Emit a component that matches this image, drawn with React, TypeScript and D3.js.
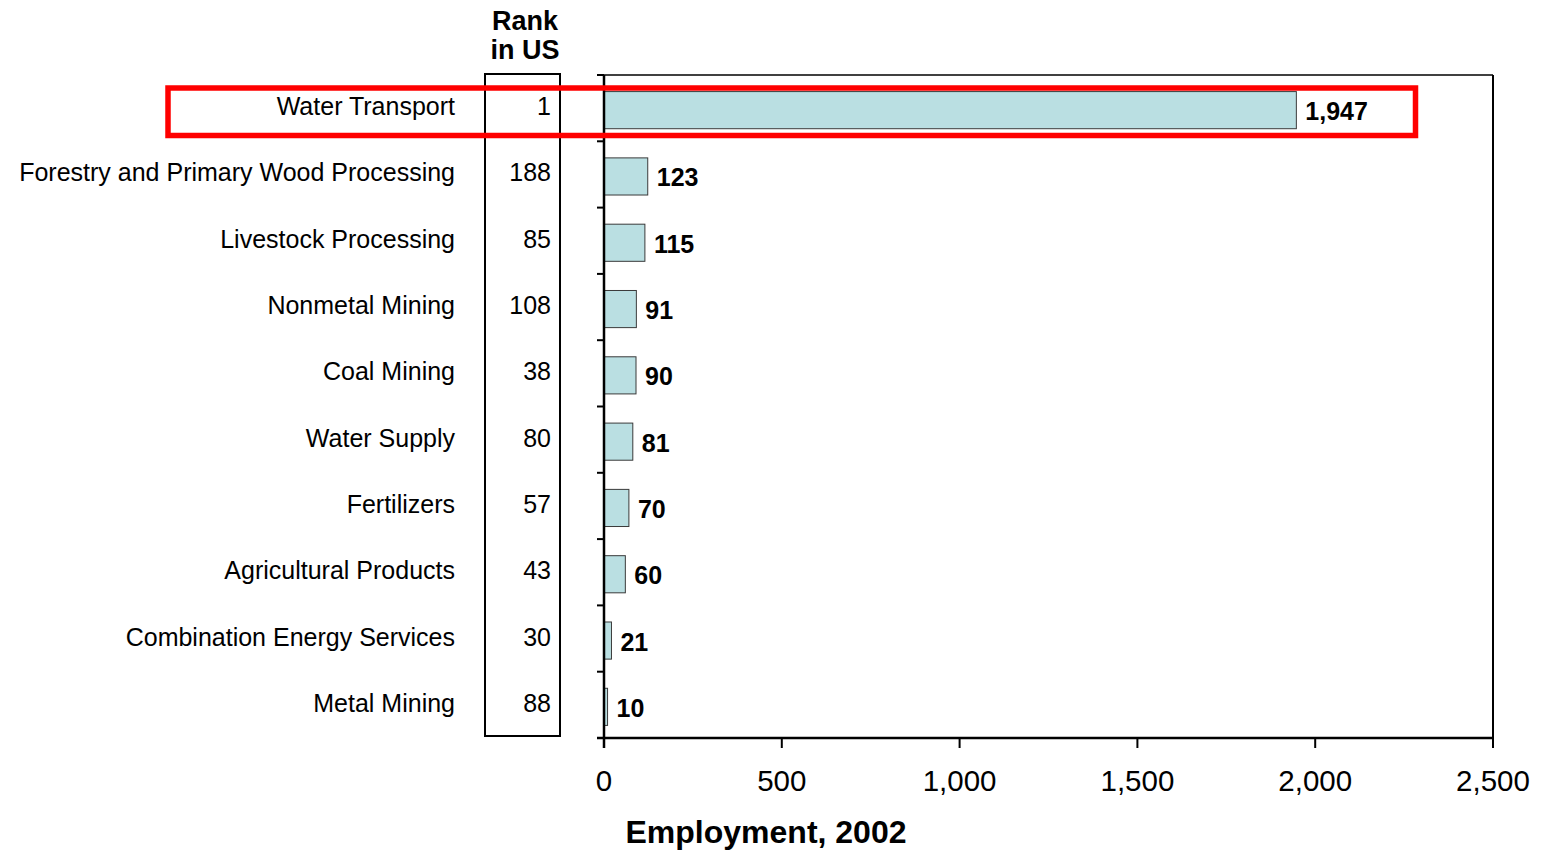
import React from "react";
import * as d3 from "d3";

const categories = [
  "Water Transport",
  "Forestry and Primary Wood Processing",
  "Livestock Processing",
  "Nonmetal Mining",
  "Coal Mining",
  "Water Supply",
  "Fertilizers",
  "Agricultural Products",
  "Combination Energy Services",
  "Metal Mining",
];
const employment = [1947, 123, 115, 91, 90, 81, 70, 60, 21, 10];
const rankInUS = [1, 188, 85, 108, 38, 80, 57, 43, 30, 88];
const xTicks = [0, 500, 1000, 1500, 2000, 2500];

const FONT = "'Liberation Sans', Arial, Helvetica, sans-serif";

export default function App() {
  const W = 1549, H = 850;
  const left = 604, right = 1493, top = 75, bottom = 738;
  const x = d3.scaleLinear().domain([0, 2500]).range([left, right]);
  const y = d3.scaleBand<string>().domain(categories).range([top, bottom]);
  const bw = y.bandwidth();
  const barH = bw * 0.56;
  const barOff = (bw - barH) / 2 + 2;
  const fmt = d3.format(",");
  const boundaries = d3.range(categories.length + 1).map((i) => top + i * bw);

  return (
    <svg
      width={W}
      height={H}
      style={{ position: "absolute", left: 0, top: 0, background: "#fff" }}
      fontFamily={FONT}
    >
      {/* Rank header */}
      <text x={525} y={30} textAnchor="middle" fontSize={27} fontWeight="bold">Rank</text>
      <text x={525} y={59} textAnchor="middle" fontSize={27} fontWeight="bold">in US</text>
      {/* Rank box */}
      <rect x={485} y={74} width={75} height={662} fill="none" stroke="#000" strokeWidth={2} />

      {/* plot frame */}
      <line x1={597} x2={right} y1={top} y2={top} stroke="#000" strokeWidth={1.5} />
      <line x1={right} x2={right} y1={top} y2={bottom} stroke="#000" strokeWidth={2} />

      {/* bars */}
      {categories.map((c, i) => (
        <rect
          key={c}
          x={x(0)}
          y={(y(c) as number) + barOff}
          width={x(employment[i]) - x(0)}
          height={barH}
          fill="#BADFE2"
          stroke="#3a3a3a"
          strokeWidth={1}
        />
      ))}

      {/* y axis */}
      <line x1={left} x2={left} y1={top} y2={bottom + 10} stroke="#000" strokeWidth={2.5} />
      {boundaries.map((b, i) => (
        <line key={i} x1={597} x2={left} y1={b} y2={b} stroke="#000" strokeWidth={2} />
      ))}

      {/* x axis */}
      <line x1={597} x2={right} y1={bottom} y2={bottom} stroke="#000" strokeWidth={2.5} />
      {xTicks.map((t) => (
        <g key={t}>
          <line x1={x(t)} x2={x(t)} y1={bottom} y2={bottom + 10} stroke="#000" strokeWidth={2} />
          <text x={x(t)} y={791} textAnchor="middle" fontSize={29.5} fill="#000">{fmt(t)}</text>
        </g>
      ))}
      <text x={766} y={843} textAnchor="middle" fontSize={32} fontWeight="bold">Employment, 2002</text>

      {/* category labels */}
      {categories.map((c) => (
        <text
          key={c}
          x={455}
          y={(y(c) as number) + bw / 2 - 2}
          textAnchor="end"
          dominantBaseline="central"
          fontSize={25}
        >
          {c}
        </text>
      ))}

      {/* ranks */}
      {categories.map((c, i) => (
        <text
          key={c}
          x={551}
          y={(y(c) as number) + bw / 2 - 2}
          textAnchor="end"
          dominantBaseline="central"
          fontSize={25}
        >
          {rankInUS[i]}
        </text>
      ))}

      {/* value labels */}
      {categories.map((c, i) => (
        <text
          key={c}
          x={x(employment[i]) + 9}
          y={(y(c) as number) + barOff + barH / 2 + 1}
          dominantBaseline="central"
          fontSize={25}
          fontWeight="bold"
        >
          {fmt(employment[i])}
        </text>
      ))}

      {/* highlight */}
      <rect
        x={168}
        y={(y(categories[0]) as number) + 13}
        width={1415.5 - 168}
        height={47.5}
        fill="none"
        stroke="#FF0000"
        strokeWidth={5.5}
      />
    </svg>
  );
}
